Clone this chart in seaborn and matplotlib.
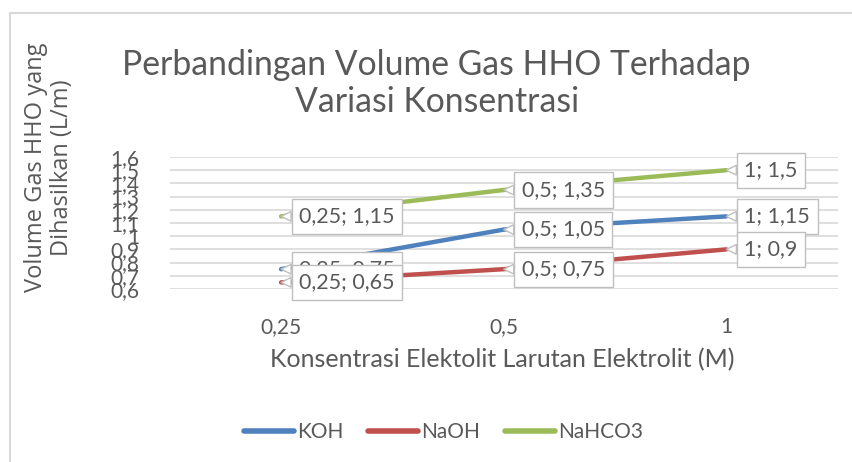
import matplotlib
matplotlib.use("Agg")
import matplotlib.pyplot as plt
from matplotlib.ticker import FuncFormatter
import pandas as pd
import seaborn as sns

# data
konsentrasi = ["0,25", "0,5", "1"]
koh = [0.75, 1.05, 1.15]
naoh = [0.65, 0.75, 0.9]
nahco3 = [1.15, 1.35, 1.5]
seri = ["KOH", "NaOH", "NaHCO3"]
warna = ["#4F81BD", "#C0504D", "#9BBB59"]

df = pd.DataFrame({
    "x": konsentrasi * 3,
    "y": koh + naoh + nahco3,
    "seri": [s for s in seri for _ in konsentrasi],
})

sns.set_style("white")
plt.rcParams["font.family"] = ["Lato", "DejaVu Sans"]
abu = "#595959"

fig = plt.figure(figsize=(8.53, 4.62), dpi=100)
ax = fig.add_axes([0.199, 0.3745, 0.783, 0.2857])

sns.lineplot(data=df, x="x", y="y", hue="seri", palette=warna, linewidth=3.2,
             ax=ax, legend=False, sort=False, zorder=3)


def koma(v, pos=None):
    return f"{v:.2f}".rstrip("0").rstrip(".").replace(".", ",")


ax.set_xlim(-0.5, 2.5)
ax.set_ylim(0.6, 1.6)
ax.set_yticks([0.6 + 0.1 * i for i in range(11)])
ax.yaxis.set_major_formatter(FuncFormatter(koma))
ax.grid(axis="y", color="#D9D9D9", linewidth=1.2)
ax.grid(axis="x", visible=False)
for s in ax.spines.values():
    s.set_visible(False)
ax.tick_params(axis="y", labelsize=15, colors=abu, length=0, pad=22)
ax.tick_params(axis="x", labelsize=15, colors=abu, length=0, pad=20)
ax.set_xlabel("")
ax.set_ylabel("")

# label data (KOH digambar dulu, tertutup label lain)
for si, vals in enumerate([koh, naoh, nahco3]):
    for i, v in enumerate(vals):
        ax.annotate(f"{konsentrasi[i]}; {koma(v)}", xy=(i, v), xytext=(13, 0),
                    textcoords="offset points", ha="left", va="center",
                    fontsize=15.5, color=abu, zorder=5 + si,
                    bbox=dict(boxstyle="square,pad=0.35", fc="white", ec="#BFBFBF", lw=1),
                    arrowprops=dict(arrowstyle="wedge,tail_width=0.45", fc="white",
                                    ec="#BFBFBF", lw=1, shrinkA=0, shrinkB=0))

fig.text(0.512, 0.82, "Perbandingan Volume Gas HHO Terhadap\nVariasi Konsentrasi",
         ha="center", va="center", fontsize=24.3, color=abu, linespacing=1.2)
fig.text(0.057, 0.637, "Volume Gas HHO yang\nDihasilkan (L/m)", ha="center", va="center",
         rotation=90, fontsize=17, color=abu, linespacing=1.1,
         family=["Open Sans", "DejaVu Sans"])
fig.text(0.589, 0.222, "Konsentrasi Elektolit Larutan Elektrolit (M)", ha="center",
         va="center", fontsize=18, color=abu)

handles = [plt.Line2D([], [], color=c, lw=4, solid_capstyle="round") for c in warna]
fig.legend(handles, seri, loc="center", bbox_to_anchor=(0.52, 0.065), ncol=3,
           frameon=False, fontsize=15, handlelength=2.4, handletextpad=0.15,
           columnspacing=1.2, labelcolor=abu)

# bingkai area grafik (atas dan kiri saja yang terlihat)
fig.add_artist(plt.Line2D([0.012, 1.0], [1 - 13 / 462, 1 - 13 / 462],
                          transform=fig.transFigure, color="#D9D9D9", lw=1.5))
fig.add_artist(plt.Line2D([0.012, 0.012], [0.0, 1 - 13 / 462],
                          transform=fig.transFigure, color="#D9D9D9", lw=1.5))
fig.savefig("out.png", dpi=100)
